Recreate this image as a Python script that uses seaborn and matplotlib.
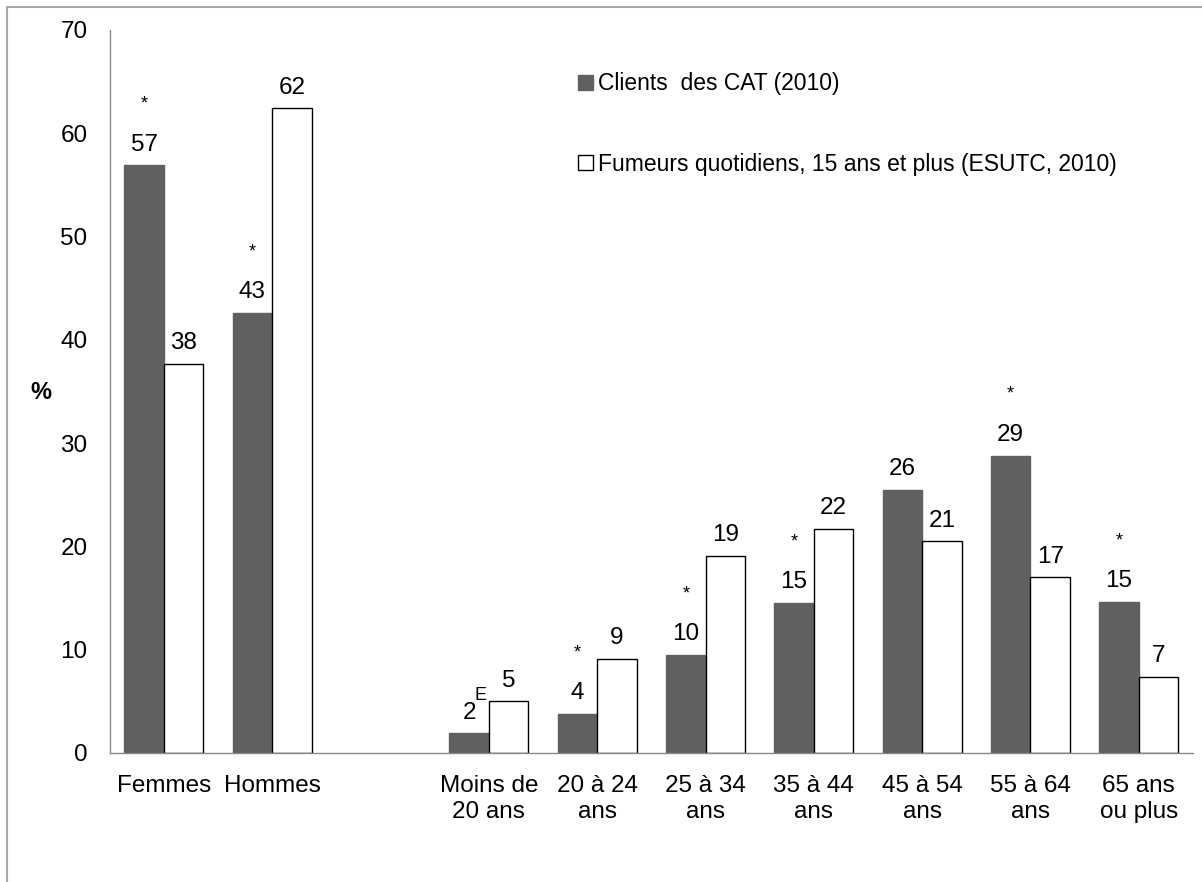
import pandas as pd
import numpy as np
import matplotlib
matplotlib.use("Agg")
import matplotlib.pyplot as plt
import seaborn as sns
from matplotlib.patches import Patch
from matplotlib.lines import Line2D

# données
categories = ["Femmes", "Hommes", " ", "Moins de\n20 ans", "20 à 24\nans", "25 à 34\nans",
              "35 à 44\nans", "45 à 54\nans", "55 à 64\nans", "65 ans\nou plus"]
groupes = ["Femmes", "Hommes", "Moins de\n20 ans", "20 à 24\nans", "25 à 34\nans",
           "35 à 44\nans", "45 à 54\nans", "55 à 64\nans", "65 ans\nou plus"]
clients = [56.9, 42.6, 1.9, 3.8, 9.5, 14.5, 25.5, 28.8, 14.6]
fumeurs = [37.7, 62.4, 5.0, 9.1, 19.1, 21.7, 20.5, 17.0, 7.4]
clients_sig = [True, True, False, True, True, True, False, True, True]
clients_E = [False, False, True, False, False, False, False, False, False]
serie_clients = "Clients  des CAT (2010)"
serie_fumeurs = "Fumeurs quotidiens, 15 ans et plus (ESUTC, 2010)"

df = pd.DataFrame({
    "groupe": groupes * 2,
    "pct": clients + fumeurs,
    "serie": [serie_clients] * len(groupes) + [serie_fumeurs] * len(groupes),
})

sns.set_style("white")
plt.rcParams["font.family"] = ["Liberation Sans", "DejaVu Sans"]
plt.rcParams["text.color"] = "black"
plt.rcParams["axes.labelcolor"] = "black"
plt.rcParams["xtick.color"] = "black"
plt.rcParams["ytick.color"] = "black"

fig = plt.figure(figsize=(12.02, 8.82), dpi=100)
ax = fig.add_axes([0.0913, 0.1463, 0.9012, 0.8197])

fonce = "#606060"
sns.barplot(data=df, x="groupe", y="pct", hue="serie", order=categories,
            hue_order=[serie_clients, serie_fumeurs],
            palette=[fonce, "white"], width=0.73, gap=0, saturation=1,
            edgecolor="black", linewidth=1, legend=False, ax=ax)

# contours : barres foncées sans bord noir
for p in ax.containers[0]:
    p.set_edgecolor(fonce)

# étiquettes de valeurs
for cont in ax.containers:
    labels = [f"{int(p.get_height() + 0.5)}" for p in cont]
    ax.bar_label(cont, labels=labels, padding=7, fontsize=17.5)

# astérisques et "E"
for p, sig, e in zip(ax.containers[0], clients_sig, clients_E):
    xc = p.get_x() + p.get_width() / 2
    if sig:
        ax.annotate("*", (xc, p.get_height()), xytext=(0, 44), textcoords="offset points",
                    ha="center", va="center", fontsize=13)
    if e:
        ax.annotate("E", (xc, p.get_height()), xytext=(8, 27), textcoords="offset points",
                    ha="center", va="center", fontsize=13)

ax.set_ylim(0, 70)
ax.set_yticks(range(0, 71, 10))
ax.tick_params(axis="both", length=0, labelsize=17.5)
ax.tick_params(axis="y", pad=16)
ax.tick_params(axis="x", pad=16)
for t in ax.get_xticklabels():
    t.set_linespacing(1.25)
ax.set_xlabel("")
ax.set_ylabel("%", rotation=0, fontsize=17, fontweight="bold", va="center", ha="center")
ax.yaxis.set_label_coords(-0.064, 0.498)

for s in ["top", "right"]:
    ax.spines[s].set_visible(False)
for s in ["left", "bottom"]:
    ax.spines[s].set_color("#888888")
    ax.spines[s].set_linewidth(1)

handles = [Patch(facecolor=fonce, edgecolor=fonce, label=serie_clients),
           Patch(facecolor="white", edgecolor="black", linewidth=1, label=serie_fumeurs)]
fig.legend(handles=handles, loc="upper left", bbox_to_anchor=(0.481, 0.918),
           frameon=False, fontsize=16.5, handlelength=0.65, handleheight=0.65,
           handletextpad=0.2, labelspacing=2.5, borderpad=0, borderaxespad=0)

# cadre extérieur (haut et gauche)
fig.add_artist(Line2D([7 / 1202, 1], [1 - 7 / 882, 1 - 7 / 882], color="#a6a6a6", lw=1.5,
                      transform=fig.transFigure))
fig.add_artist(Line2D([7 / 1202, 7 / 1202], [0, 1 - 7 / 882], color="#a6a6a6", lw=1.5,
                      transform=fig.transFigure))

fig.savefig("out.png", dpi=100)
